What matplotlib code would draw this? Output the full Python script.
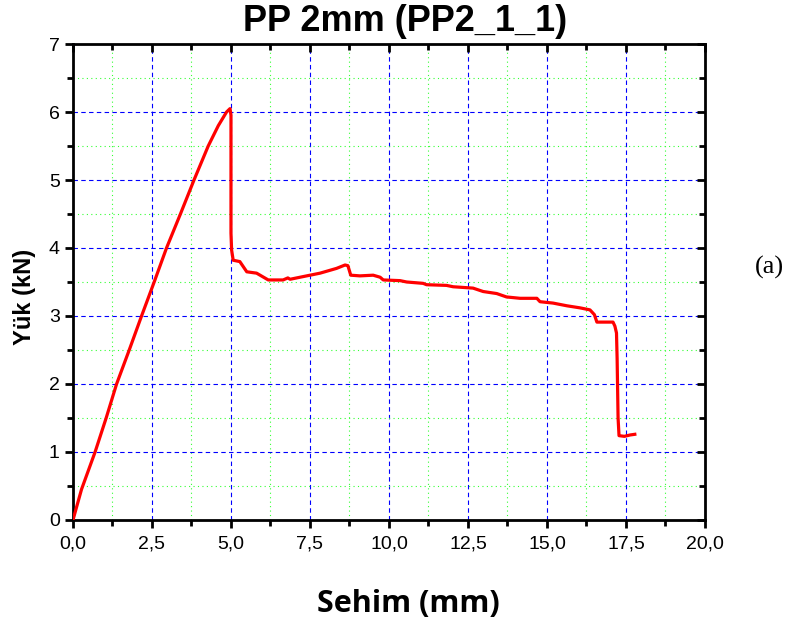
import matplotlib
matplotlib.use("Agg")
import matplotlib.pyplot as plt
from matplotlib.ticker import MultipleLocator, FuncFormatter

# deflection (mm) vs load (kN)
sehim = [0.0, 0.27, 0.70, 1.05, 1.38, 1.78, 2.17, 2.57, 2.96, 3.40, 3.83, 4.28, 4.60,
         4.86, 4.97, 5.00, 5.00, 5.02, 5.07, 5.28, 5.50, 5.81, 6.18, 6.65, 6.80,
         6.87, 7.29, 7.82, 8.34, 8.61, 8.70, 8.79, 9.08, 9.50, 9.72, 9.82, 10.35,
         10.56, 11.08, 11.19, 11.82, 12.03, 12.66, 12.98, 13.41, 13.72, 14.15,
         14.68, 14.78, 15.19, 15.63, 16.04, 16.36, 16.50, 16.58, 17.09, 17.15,
         17.20, 17.22, 17.25, 17.28, 17.45, 17.63, 17.78]
yuk = [0.0, 0.45, 1.00, 1.50, 2.00, 2.50, 3.00, 3.50, 4.00, 4.50, 5.00, 5.50, 5.80,
       6.00, 6.05, 5.95, 4.22, 3.97, 3.82, 3.80, 3.65, 3.63, 3.53, 3.53, 3.56,
       3.54, 3.58, 3.63, 3.70, 3.75, 3.74, 3.60, 3.59, 3.60, 3.57, 3.53, 3.52,
       3.50, 3.48, 3.46, 3.45, 3.43, 3.41, 3.36, 3.33, 3.28, 3.26,
       3.26, 3.21, 3.19, 3.15, 3.12, 3.09, 3.02, 2.91, 2.91, 2.85,
       2.75, 2.37, 1.50, 1.24, 1.23, 1.25, 1.26]

x_ticks = [0.0, 2.5, 5.0, 7.5, 10.0, 12.5, 15.0, 17.5, 20.0]
y_ticks = [0, 1, 2, 3, 4, 5, 6, 7]

fig = plt.figure(figsize=(7.89, 6.27), dpi=100)
ax = fig.add_axes([0.0925, 0.1707, 0.801, 0.7591])

ax.plot(sehim, yuk, color="red", lw=2.3, solid_joinstyle="round", zorder=3)

ax.set_xlim(0, 20)
ax.set_ylim(0, 7)
ax.set_xticks(x_ticks)
ax.set_yticks(y_ticks)
ax.xaxis.set_minor_locator(MultipleLocator(1.25))
ax.yaxis.set_minor_locator(MultipleLocator(0.5))
ax.xaxis.set_major_formatter(FuncFormatter(lambda v, p: f"{v:.1f}".replace(".", ",")))

ax.grid(which="major", color="blue", ls=(0, (4, 3)), lw=0.8)
ax.grid(which="minor", color="#33ff33", ls=(0, (1, 3)), lw=0.8)

for s in ax.spines.values():
    s.set_linewidth(2.0)

ax.tick_params(which="both", direction="out", width=2, labelsize=14,
               top=True, right=True)
ax.tick_params(which="major", length=6)
ax.tick_params(which="minor", length=4)
ax.tick_params(axis="x", pad=5)
for t in ax.get_xticklabels() + ax.get_yticklabels():
    t.set_fontfamily("Liberation Sans")
# mirror ticks point inward
for tick in ax.xaxis.get_major_ticks() + ax.xaxis.get_minor_ticks():
    tick.tick2line.set_marker(3)
for tick in ax.yaxis.get_major_ticks() + ax.yaxis.get_minor_ticks():
    tick.tick2line.set_marker(0)

fig.text(0.514, 0.966, "PP 2mm (PP2_1_1)", ha="center", va="center",
         fontsize=26, fontweight="bold", family="Liberation Sans")
fig.text(0.518, 0.036, "Sehim (mm)", ha="center", va="center",
         fontsize=22, fontweight="bold", family="Open Sans")
fig.text(0.031, 0.527, "Yük (kN)", ha="center", va="center", rotation=90,
         fontsize=17, fontweight="bold", family="Liberation Sans")
fig.text(0.975, 0.573, "(a)", ha="center", va="center",
         fontsize=19, family="Liberation Serif")

fig.savefig("out.png", dpi=100)
